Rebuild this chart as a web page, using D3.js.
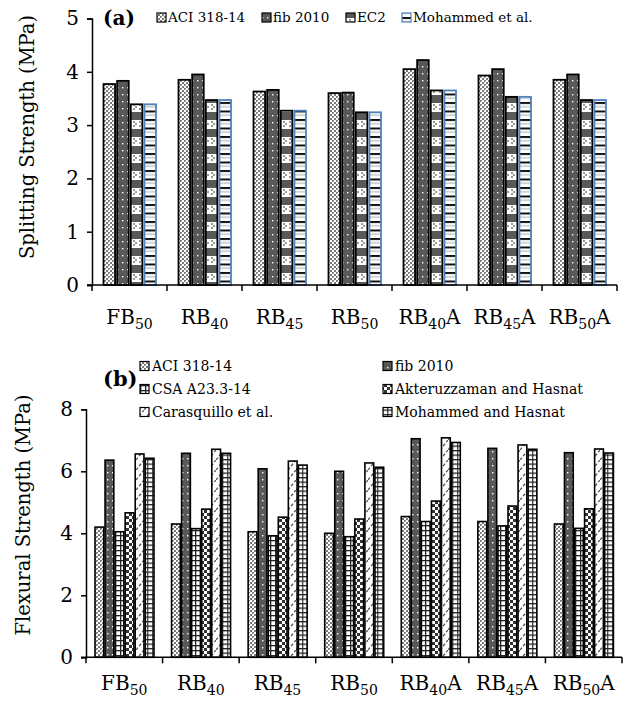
<!DOCTYPE html>
<html><head><meta charset="utf-8">
<script src="https://cdn.jsdelivr.net/npm/d3@7"></script>
<style>
body{margin:0;background:#fff}
svg{display:block}
text{font-family:"DejaVu Serif",serif;fill:#000}
</style>
</head><body>
<svg id="c" width="627" height="702"></svg>
<script>
// ---------- DATA ----------
const categories = ["FB50","RB40","RB45","RB50","RB40A","RB45A","RB50A"];

const splitSeries = ["ACI 318-14","fib 2010","EC2","Mohammed et al."];
const splitACI = [3.77,3.85,3.63,3.60,4.05,3.93,3.85];
const splitFib = [3.83,3.95,3.66,3.61,4.22,4.05,3.95];
const splitEC2 = [3.39,3.47,3.27,3.24,3.65,3.53,3.47];
const splitMoh = [3.39,3.47,3.27,3.24,3.65,3.53,3.47];
const splitTicks = [0,1,2,3,4,5];

const flexSeries = ["ACI 318-14","fib 2010","CSA A23.3-14","Akteruzzaman and Hasnat","Carasquillo et al.","Mohammed and Hasnat"];
const flexACI  = [4.20,4.30,4.05,4.00,4.54,4.38,4.30];
const flexFib  = [6.36,6.58,6.08,6.00,7.05,6.74,6.60];
const flexCSA  = [4.05,4.15,3.92,3.89,4.38,4.24,4.16];
const flexAkt  = [4.66,4.78,4.52,4.46,5.04,4.88,4.79];
const flexCara = [6.56,6.71,6.33,6.27,7.08,6.85,6.72];
const flexMoh  = [6.42,6.58,6.20,6.13,6.93,6.71,6.59];
const flexTicks = [0,2,4,6,8];

// ---------- PATTERNS ----------
const svg = d3.select("#c");
const defs = svg.append("defs");
function pat(id,w,h,bg,draw){
  const p = defs.append("pattern").attr("id",id)
    .attr("patternUnits","userSpaceOnUse").attr("width",w).attr("height",h);
  p.append("rect").attr("width",w).attr("height",h).attr("fill",bg);
  draw(p);
}
function r(p,x,y,w,h,c){p.append("rect").attr("x",x).attr("y",y).attr("width",w).attr("height",h).attr("fill",c);}

pat("pACI",4,4,"#fff",p=>{r(p,0,0,2,2,"#7a7a7a");r(p,2,2,2,2,"#7a7a7a");r(p,1,1,1,1,"#c8c8c8");});
pat("pFib",5,7,"#595959",p=>{r(p,2,3,1.4,1.4,"#fff");});
pat("pEC2",6,17,"#595959",p=>{r(p,0,1,6,9,"#fff");r(p,1,2,2,2,"#999");r(p,3,4,2,2,"#999");r(p,1,6,2,2,"#999");});
pat("pMohA",6,8.5,"#fff",p=>{r(p,0,0,6,2,"#111");r(p,0,4.25,6,1,"#aaa");});
pat("pCSA",5,5,"#fff",p=>{r(p,0,0,5,1.3,"#222");r(p,0,0,1.3,5,"#222");});
pat("pAkt",6,6,"#fff",p=>{r(p,0,0,3,3,"#333");r(p,3,3,3,3,"#333");});
pat("pCara",8,10,"#fff",p=>{p.append("path").attr("d","M0,10 L8,0").attr("stroke","#555").attr("stroke-width",1.3).attr("stroke-dasharray","3,2");});
pat("pMohB",5,4.5,"#fff",p=>{r(p,0,0,5,1.3,"#222");r(p,2.2,0,1.1,4.5,"#222");});

// ---------- CHART FUNCTION ----------
function drawChart(cfg){
  const g = svg.append("g");
  const x0 = d3.scaleBand().domain(categories).range(cfg.xRange).paddingInner(0).paddingOuter(0);
  const x1 = d3.scaleBand().domain(cfg.series).range(cfg.inner).paddingInner(cfg.innerPad).paddingOuter(0);
  const y = d3.scaleLinear().domain(cfg.yDomain).range(cfg.yRange);

  cfg.series.forEach((s,si)=>{
    g.selectAll(null).data(cfg.values[si]).enter().append("rect")
      .attr("x",(d,i)=>x0(categories[i])+x1(s))
      .attr("y",d=>y(d))
      .attr("width",x1.bandwidth())
      .attr("height",d=>y(0)-y(d))
      .attr("fill",`url(#${cfg.fills[si]})`)
      .attr("stroke",cfg.strokes[si])
      .attr("stroke-width",cfg.sw);
  });

  const ya = d3.axisLeft(y).tickValues(cfg.ticks).tickSize(5).tickPadding(8).tickFormat(d3.format("d"));
  const yg = g.append("g").attr("transform",`translate(${cfg.xRange[0]},0)`).call(ya);
  yg.select(".domain").attr("stroke","#000").attr("stroke-width",1.5);
  yg.selectAll(".tick line").attr("stroke","#000").attr("stroke-width",1.5);
  yg.selectAll(".tick text").style("font-family","DejaVu Serif").style("font-size","20px").attr("fill","#000");

  const y0 = y(0);
  g.append("line").attr("x1",cfg.xRange[0]-5).attr("x2",cfg.xRange[1]).attr("y1",y0).attr("y2",y0)
    .attr("stroke","#000").attr("stroke-width",1.5);
  const bounds = categories.map(c=>x0(c)).concat([x0(categories[categories.length-1])+x0.bandwidth()]);
  g.selectAll(null).data(bounds).enter().append("line")
    .attr("x1",d=>d).attr("x2",d=>d).attr("y1",y0).attr("y2",y0+6)
    .attr("stroke","#000").attr("stroke-width",1.5);
  categories.forEach(c=>{
    const m = c.match(/^([A-Z]+)(\d+)(A?)$/);
    const t = g.append("text").attr("x",x0(c)+x0.bandwidth()/2).attr("y",cfg.labelY)
      .attr("text-anchor","middle").style("font-size","20px");
    t.append("tspan").text(m[1]);
    t.append("tspan").attr("dy",5).style("font-size","14px").text(m[2]);
    if(m[3]) t.append("tspan").attr("dy",-5).text(m[3]);
  });

  g.append("text").attr("transform",`translate(${cfg.titlePos[0]},${cfg.titlePos[1]}) rotate(-90)`)
    .attr("text-anchor","middle").attr("dy","0.35em").style("font-size","19.5px").text(cfg.title);
  return g;
}

// ---------- (a) ----------
const splitFills = ["pACI","pFib","pEC2","pMohA"];
drawChart({
  series: splitSeries,
  values: [splitACI,splitFib,splitEC2,splitMoh],
  fills: splitFills,
  strokes: ["#000","#000","#000","#4f81bd"],
  sw: 1.8,
  xRange: [92,617],
  inner: [11.5,64],
  innerPad: 0.15,
  yDomain: [0,5], yRange: [285,18.5],
  ticks: splitTicks,
  labelY: 324,
  title: "Splitting Strength (MPa)",
  titlePos: [27,137]
});
svg.append("text").attr("x",103).attr("y",18).attr("dy","0.35em")
  .style("font-size","20px").style("font-weight","bold").text("(a)");
{
  const boxX = [157,262,346,402];
  splitSeries.forEach((s,i)=>{
    svg.append("rect").attr("x",boxX[i]).attr("y",13).attr("width",9).attr("height",9)
      .attr("fill",`url(#${splitFills[i]})`).attr("stroke",i===3?"#4f81bd":"#000").attr("stroke-width",1.2);
    svg.append("text").attr("x",boxX[i]+11).attr("y",17.5).attr("dy","0.35em").style("font-size","13.5px").text(s);
  });
}

// ---------- (b) ----------
const flexFills = ["pACI","pFib","pCSA","pAkt","pCara","pMohB"];
drawChart({
  series: flexSeries,
  values: [flexACI,flexFib,flexCSA,flexAkt,flexCara,flexMoh],
  fills: flexFills,
  strokes: ["#000","#000","#000","#000","#000","#000"],
  sw: 1.6,
  xRange: [86,622],
  inner: [9,68],
  innerPad: 0.13,
  yDomain: [0,8], yRange: [657.3,409.3],
  ticks: flexTicks,
  labelY: 690,
  title: "Flexural Strength (MPa)",
  titlePos: [23,515]
});
svg.append("text").attr("x",103).attr("y",379).attr("dy","0.35em")
  .style("font-size","21px").style("font-weight","bold").text("(b)");
{
  const cols = [140,383], rows = [366,389,412];
  flexSeries.forEach((s,i)=>{
    const cx = cols[i%2], cy = rows[Math.floor(i/2)];
    svg.append("rect").attr("x",cx).attr("y",cy-4.5).attr("width",9).attr("height",9)
      .attr("fill",`url(#${flexFills[i]})`).attr("stroke","#000").attr("stroke-width",1.2);
    svg.append("text").attr("x",cx+12).attr("y",cy).attr("dy","0.35em").style("font-size","14px").text(s);
  });
}
</script>
</body></html>
